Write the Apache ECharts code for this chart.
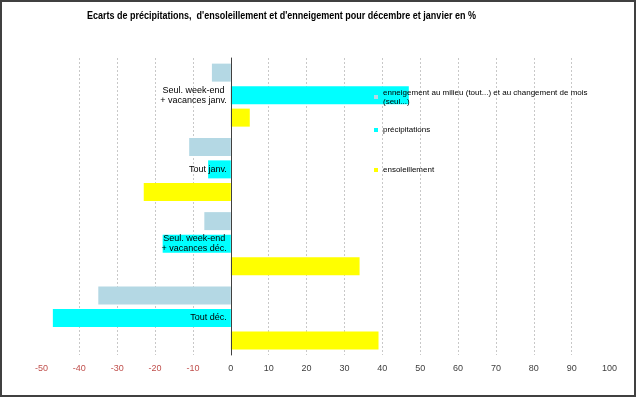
<!DOCTYPE html>
<html>
<head>
    <meta charset="utf-8">
    <title>Ecarts de précipitations</title>
    <script src="https://cdn.jsdelivr.net/npm/echarts@6/dist/echarts.min.js"></script>
    <style>
        html, body { margin: 0; padding: 0; background: #fff; }
    </style>
</head>
<body>
    <div id="main" style="width:636px;height:397px;"></div>
    <script type="text/javascript">
        // categories, top to bottom
        var categories = [
            'Seul. week-end\n+ vacances janv.',
            'Tout janv.',
            'Seul. week-end\n+ vacances déc.',
            'Tout déc.'
        ];
        var seriesNames = [
            'enneigement au milieu (tout...) et au changement de mois (seul...)',
            'précipitations',
            'ensoleillement'
        ];
        var enneigement = [-5, -11, -7, -35];
        var precipitations = [47, -6, -18, -47];
        var ensoleillement = [5, -23, 34, 39];
        var xTicks = { min: -50, max: 100, step: 10 };
        var titleText = 'Ecarts de précipitations,  d\'ensoleillement et d\'enneigement pour décembre et janvier en %';

        var colors = ['#b4d8e4', '#00ffff', '#ffff00'];

        // plot area in pixels
        var gridLeft = 41.5, gridRight = 26.5;
        var plotWidth = 636 - gridLeft - gridRight;
        // distance from the left edge of the plot to x = 0
        var zeroOffset = (0 - xTicks.min) / (xTicks.max - xTicks.min) * plotWidth;

        var myChart = echarts.init(document.getElementById('main'));

        function legendAt(name, top) {
            return {
                data: [name],
                orient: 'vertical',
                left: 374,
                top: top,
                padding: 0,
                itemWidth: 4,
                itemHeight: 4,
                icon: 'rect',
                selectedMode: false,
                formatter: function (n) {
                    return n.replace(' (seul...)', '\n(seul...)');
                },
                textStyle: {
                    fontFamily: 'Liberation Sans',
                    fontSize: 8,
                    lineHeight: 9,
                    color: '#000'
                }
            };
        }

        function barSeries(i, data) {
            return {
                name: seriesNames[i],
                type: 'bar',
                data: data,
                barWidth: 18,
                barGap: '25%',
                itemStyle: { color: colors[i] },
                emphasis: { disabled: true }
            };
        }

        var option = {
            backgroundColor: '#fff',
            animation: false,
            legend: [
                legendAt(seriesNames[0], 88),
                legendAt(seriesNames[1], 125.5),
                legendAt(seriesNames[2], 165.5)
            ],
            grid: {
                left: gridLeft,
                right: gridRight,
                top: 58,
                bottom: 42,
                containLabel: false,
                outerBoundsMode: 'none'
            },
            xAxis: {
                type: 'value',
                min: xTicks.min,
                max: xTicks.max,
                interval: xTicks.step,
                axisLine: { show: false },
                axisTick: { show: false },
                splitLine: {
                    show: true,
                    showMinLine: false,
                    showMaxLine: false,
                    lineStyle: { color: '#c8c8c8', type: [2, 2], width: 1 }
                },
                axisLabel: {
                    margin: 9,
                    fontFamily: 'Liberation Sans',
                    fontSize: 9,
                    color: function (v) {
                        return v < 0 ? '#c0504d' : '#404040';
                    }
                }
            },
            yAxis: {
                type: 'category',
                data: categories,
                inverse: true,
                position: 'left',
                offset: -zeroOffset,
                z: 5,
                axisLine: {
                    show: true,
                    onZero: false,
                    lineStyle: { color: '#404040', width: 1 }
                },
                axisTick: { show: false },
                splitLine: { show: false },
                axisLabel: {
                    margin: 4,
                    formatter: function (v) {
                        return v.split('\n').map(function (s) {
                            return '{c|' + s + '}';
                        }).join('\n');
                    },
                    rich: {
                        c: {
                            align: 'center',
                            fontFamily: 'Liberation Sans',
                            fontSize: 9,
                            lineHeight: 10,
                            color: '#000'
                        }
                    }
                }
            },
            series: [
                barSeries(0, enneigement),
                barSeries(1, precipitations),
                barSeries(2, ensoleillement)
            ],
            graphic: [{
                type: 'text',
                silent: true,
                x: 87,
                y: 16,
                scaleX: 0.9,
                style: {
                    text: titleText,
                    fontFamily: 'Liberation Sans',
                    fontSize: 10,
                    fontWeight: 'bold',
                    fill: '#000',
                    verticalAlign: 'middle'
                }
            }, {
                type: 'rect',
                silent: true,
                z: 100,
                shape: { x: 1, y: 1, width: 634, height: 395 },
                style: { fill: 'none', stroke: '#404040', lineWidth: 2 }
            }]
        };

        myChart.setOption(option);
    </script>
</body>
</html>
